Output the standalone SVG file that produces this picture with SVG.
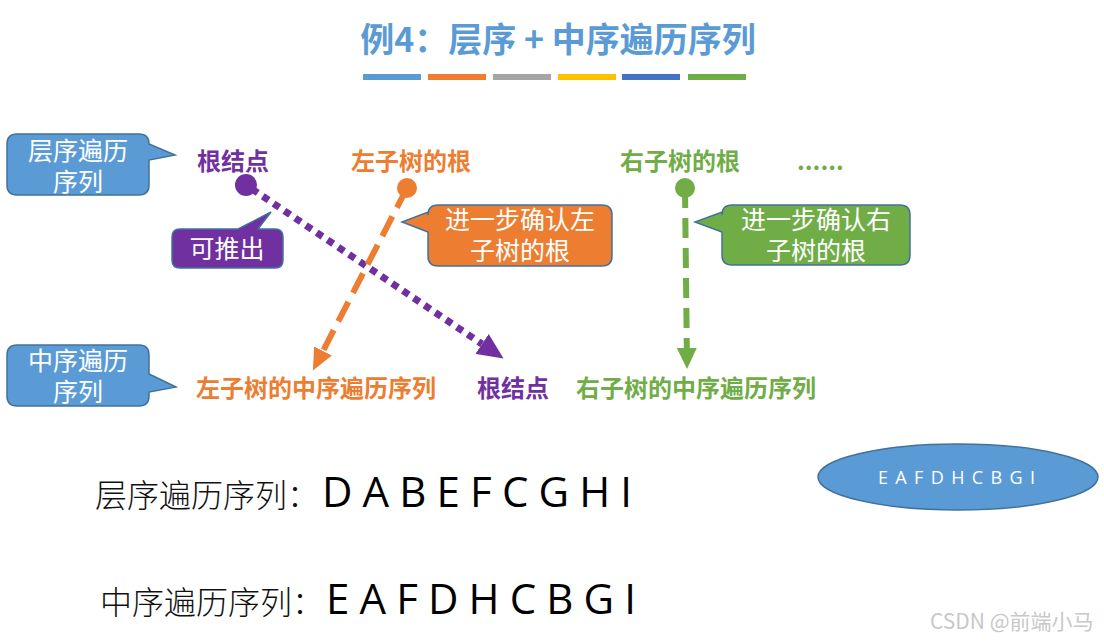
<svg xmlns="http://www.w3.org/2000/svg" width="1104" height="641" viewBox="0 0 1104 641">
<defs>
<style>
.cjk{font-family:"Noto Sans CJK SC","Noto Sans",sans-serif}
.lbl{font-family:"Noto Sans CJK SC",sans-serif;font-size:24px;font-weight:700}
.call{font-family:"Noto Sans CJK SC",sans-serif;font-size:25px;fill:#fff;text-anchor:middle}
.seq{font-family:"Open Sans","Liberation Sans",sans-serif;font-size:42px;fill:#000}
.cap{font-family:"Noto Sans CJK SC",sans-serif;font-size:32px;fill:#111;font-weight:300}
</style>
<marker id="arP" viewBox="0 0 26 24" refX="0" refY="12" markerWidth="26" markerHeight="24" markerUnits="userSpaceOnUse" orient="auto"><path d="M0,0 L26,12 L0,24 Z" fill="#7030A0"/></marker>
<marker id="arO" viewBox="0 0 22 20" refX="0" refY="10" markerWidth="22" markerHeight="20" markerUnits="userSpaceOnUse" orient="auto"><path d="M0,0 L22,10 L0,20 Z" fill="#ED7D31"/></marker>
<marker id="arG" viewBox="0 0 21 20" refX="0" refY="10" markerWidth="21" markerHeight="20" markerUnits="userSpaceOnUse" orient="auto"><path d="M0,0 L21,10 L0,20 Z" fill="#70AD47"/></marker>
</defs>
<rect width="1104" height="641" fill="#fff"/>

<g id="title">
<text x="558" y="52" text-anchor="middle" class="cjk" font-size="34" font-weight="700" fill="#5B9BD5">例4：层序 + 中序遍历序列</text>
<rect x="363" y="74" width="58" height="6" fill="#5B9BD5"/>
<rect x="428" y="74" width="58" height="6" fill="#ED7D31"/>
<rect x="493" y="74" width="58" height="6" fill="#A5A5A5"/>
<rect x="558" y="74" width="58" height="6" fill="#FFC000"/>
<rect x="622" y="74" width="58" height="6" fill="#4472C4"/>
<rect x="688" y="74" width="58" height="6" fill="#70AD47"/>
</g>

<g id="connectors" fill="none">
<line x1="252" y1="189" x2="482" y2="344" stroke="#7030A0" stroke-width="7" stroke-dasharray="7 6" marker-end="url(#arP)"/>
<line x1="407" y1="188" x2="323" y2="351" stroke="#ED7D31" stroke-width="6" stroke-dasharray="22 10" marker-end="url(#arO)"/>
<line x1="685" y1="188" x2="686.8" y2="348" stroke="#70AD47" stroke-width="6" stroke-dasharray="20 10" marker-end="url(#arG)"/>
</g>

<g id="callout-level">
<path d="M17,134 H139 Q149,134 149,144 L175,155 L149,160 V185 Q149,195 139,195 H17 Q7,195 7,185 V144 Q7,134 17,134 Z" fill="#5B9BD5" stroke="#41719C" stroke-width="1.5"/>
<text x="78" y="160" class="call">层序遍历</text>
<text x="78" y="191" class="call">序列</text>
</g>

<g id="callout-inorder">
<path d="M17,345 H139 Q149,345 149,355 V374 L176,387 L149,392 V396 Q149,406 139,406 H17 Q7,406 7,396 V355 Q7,345 17,345 Z" fill="#5B9BD5" stroke="#41719C" stroke-width="1.5"/>
<text x="78" y="370" class="call">中序遍历</text>
<text x="78" y="401" class="call">序列</text>
</g>

<g id="root-top">
<text x="197" y="170" class="lbl" fill="#7030A0">根结点</text>
<circle cx="246" cy="185" r="11" fill="#7030A0"/>
</g>

<g id="left-root">
<text x="351" y="170" class="lbl" fill="#ED7D31">左子树的根</text>
<circle cx="407" cy="188" r="10" fill="#ED7D31"/>
</g>

<g id="right-root">
<text x="620" y="170" class="lbl" fill="#70AD47">右子树的根</text>
<circle cx="685" cy="188" r="10" fill="#70AD47"/>
</g>

<g id="dots">
<text x="797" y="170" class="lbl" fill="#70AD47" font-size="14">......</text>
</g>

<g id="callout-derive">
<path d="M180,229 H238 L271,212 L258,229 H275 Q283,229 283,237 V260 Q283,268 275,268 H180 Q172,268 172,260 V237 Q172,229 180,229 Z" fill="#7030A0" stroke="#41719C" stroke-width="1.5"/>
<text x="227" y="258" class="call">可推出</text>
</g>

<g id="callout-left">
<path d="M438,205 H602 Q612,205 612,215 V256 Q612,266 602,266 H438 Q428,266 428,256 V232 L402,222 L428,212 V215 Q428,205 438,205 Z" fill="#ED7D31" stroke="#41719C" stroke-width="1.5"/>
<text x="520" y="229" class="call">进一步确认左</text>
<text x="520" y="260" class="call">子树的根</text>
</g>

<g id="callout-right">
<path d="M732,205 H900 Q910,205 910,215 V255 Q910,265 900,265 H732 Q722,265 722,255 V232 L695,222 L722,212 V215 Q722,205 732,205 Z" fill="#70AD47" stroke="#41719C" stroke-width="1.5"/>
<text x="816" y="229" class="call">进一步确认右</text>
<text x="816" y="260" class="call">子树的根</text>
</g>

<g id="left-inorder">
<text x="196" y="397" class="lbl" fill="#ED7D31">左子树的中序遍历序列</text>
</g>
<g id="root-bottom">
<text x="477" y="397" class="lbl" fill="#7030A0">根结点</text>
</g>
<g id="right-inorder">
<text x="576" y="397" class="lbl" fill="#70AD47">右子树的中序遍历序列</text>
</g>

<g id="seq-level">
<text x="95" y="507" class="cap">层序遍历序列：</text>
<text x="322" y="507" class="seq" textLength="310" lengthAdjust="spacing">D A B E F C G H I</text>
</g>

<g id="seq-inorder">
<text x="100" y="614" class="cap">中序遍历序列：</text>
<text x="326" y="614" class="seq" textLength="310" lengthAdjust="spacing">E A F D H C B G I</text>
</g>

<g id="ellipse">
<ellipse cx="958" cy="477" rx="140" ry="33" fill="#5B9BD5" stroke="#41719C" stroke-width="1.5"/>
<text x="878" y="484" font-family="Open Sans,Liberation Sans,sans-serif" font-size="18" fill="#fff" textLength="157" lengthAdjust="spacing">E A F D H C B G I</text>
</g>

<g id="watermark">
<text x="930" y="629" font-family="Noto Sans CJK SC,sans-serif" font-size="21" fill="#c8c8c8">CSDN @前端小马</text>
</g>
</svg>
